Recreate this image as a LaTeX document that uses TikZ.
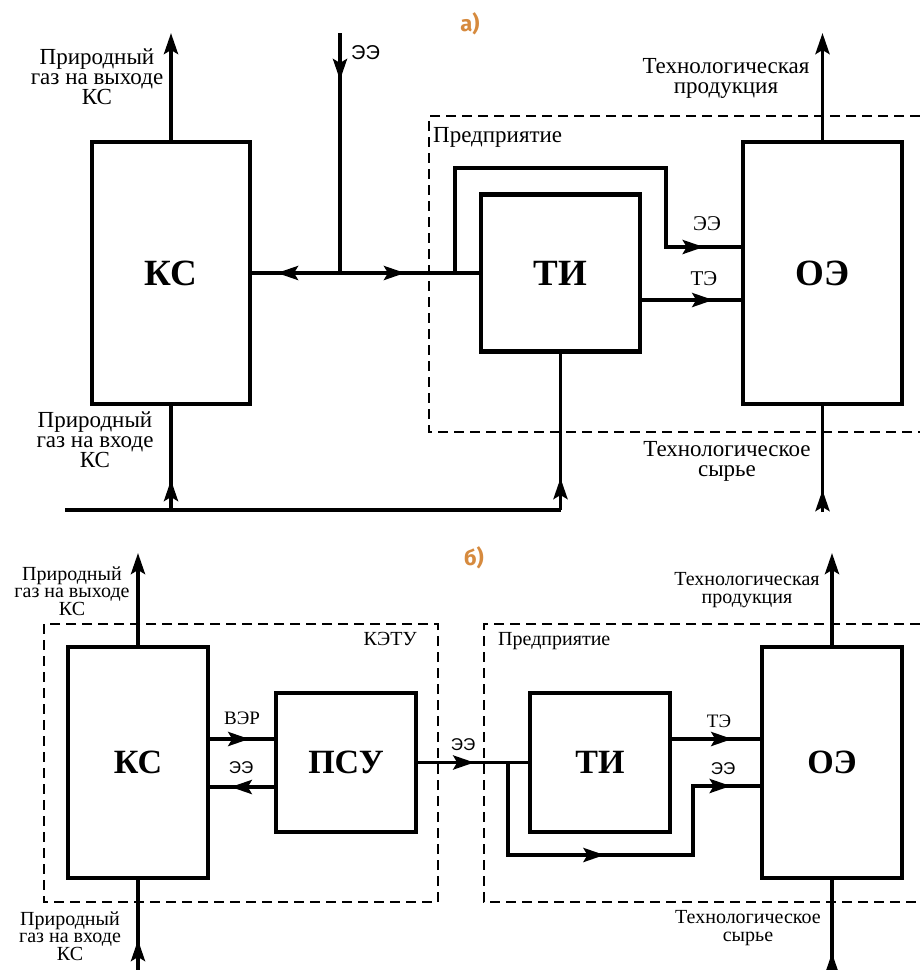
\documentclass[tikz,border=0pt]{standalone}
\usepackage{fontspec}
\setmainfont{Liberation Serif}
\setsansfont{Liberation Sans}
\newfontfamily\tagfont{Fira Sans}
\usepackage{xcolor}
\usetikzlibrary{arrows.meta, decorations.markings}
\definecolor{tagorange}{RGB}{214,138,62}

\begin{document}
\begin{tikzpicture}[
  x=1pt, y=-1pt,
  box/.style={rectangle, draw, line width=4.5pt, inner sep=0pt, font=\bfseries\fontsize{37}{37}\selectfont},
  boxsmall/.style={box, font=\bfseries\fontsize{34}{34}\selectfont},
  flowline/.style={line width=3.8pt},
  flow/.style={postaction={decorate, decoration={markings, mark=at position #1 with {\arrow{Stealth[length=21pt, width=14pt, inset=4pt]}}}}},
  outarrow/.style={line width=3.8pt, -{Stealth[length=21pt, width=14pt, inset=4pt]}},
  zone/.style={line width=1.4pt, dash pattern=on 10pt off 6pt},
  note/.style={inner sep=0pt, align=center, font=\fontsize{23}{20}\selectfont},
  notesmall/.style={inner sep=0pt, align=center, font=\fontsize{20}{17.5}\selectfont},
  tag/.style={inner sep=0pt, font=\fontsize{21}{21}\selectfont},
  tagsmall/.style={inner sep=0pt, font=\fontsize{19}{19}\selectfont},
  eetag/.style={inner sep=0pt, font=\sffamily\fontsize{20}{20}\selectfont},
  eetagsmall/.style={inner sep=0pt, font=\sffamily\fontsize{17}{17}\selectfont},
  part/.style={inner sep=0pt, text=tagorange, font=\tagfont\bfseries\fontsize{22}{22}\selectfont}
]
\useasboundingbox (0,0) rectangle (920,970);

\node[part] (parta) at (470,24) {а)};
\node[box, minimum width=158pt, minimum height=262pt] (ks) at (171,273) {КС};
\node[box, minimum width=159pt, minimum height=157pt] (ti) at (560.5,273) {ТИ};
\node[box, minimum width=159pt, minimum height=262pt] (oe) at (822.5,273) {ОЭ};

\coordinate (gasout) at (171,33);
\coordinate (eein) at (340,33);
\coordinate (split) at (340,273);
\coordinate (bypass) at (455,273);
\coordinate (prodout) at (822.5,33);
\coordinate (gasin) at (65,510);
\coordinate (rawin) at (822.5,512);

\draw[zone] (920,116) -- (429,116) -- (429,432) -- (920,432);
\node[inner sep=0pt, font=\fontsize{23}{23}\selectfont, anchor=base west] (firm) at (433,142) {Предприятие};

\draw[outarrow] (ks.north) -- (gasout);
\draw[flowline, flow=47pt] (eein) -- (split);
\draw[flowline, flow=63pt] (split) -- (ks.east);
\draw[flowline, flow=65pt] (split) -- (ti.west);
\draw[flowline, flow=-37pt] (bypass) -- (455,168) -- (666,168) -- (666,247) -- ([yshift=26pt]oe.west);
\draw[flowline, flow=71pt] ([yshift=-27pt]ti.east) -- ([yshift=-27pt]oe.west);
\draw[outarrow] (oe.north) -- (prodout);
\draw[flowline] (gasin) -- (ti.south |- gasin);
\draw[flowline, flow=32pt] (ti.south |- gasin) -- (ti.south);
\draw[flowline, flow=30pt] (ks.south |- gasin) -- (ks.south);
\draw[flowline, flow=22pt] (rawin) -- (oe.south);

\node[note] (gasoutlbl) at (97,77) {Природный\\газ на выходе\\КС};
\node[note] (gasinlbl) at (95,440) {Природный\\газ на входе\\КС};
\node[eetag, anchor=base west] (eeinlbl) at (351,59) {ЭЭ};
\node[tag] (eebylbl) at (707,224) {ЭЭ};
\node[tag] (telbl) at (704,279) {ТЭ};
\node[note] (prodlbl) at (726,78) {Технологическая\\продукция};
\node[note] (rawlbl) at (727,461) {Технологическое\\сырье};

\node[part] (partb) at (474,558) {б)};
\node[boxsmall, minimum width=140pt, minimum height=231pt] (ks2) at (138,762.5) {КС};
\node[boxsmall, minimum width=140pt, minimum height=139pt] (psu) at (346,762.5) {ПСУ};
\node[boxsmall, minimum width=140pt, minimum height=139pt] (ti2) at (600,762.5) {ТИ};
\node[boxsmall, minimum width=140pt, minimum height=231pt] (oe2) at (832,762.5) {ОЭ};

\coordinate (gasout2) at (138,553);
\coordinate (split2) at (508,762.5);
\coordinate (prodout2) at (832,553);
\coordinate (gasin2) at (138,970);
\coordinate (rawin2) at (832,970);

\draw[zone] (44,624) rectangle (438,902);
\draw[zone] (920,624) -- (484,624) -- (484,902) -- (920,902);
\node[inner sep=0pt, font=\fontsize{20}{20}\selectfont, anchor=base east] (ketu) at (417,645) {КЭТУ};
\node[inner sep=0pt, font=\fontsize{20}{20}\selectfont, anchor=base west] (firm2) at (498,645) {Предприятие};

\draw[outarrow] (ks2.north) -- (gasout2);
\draw[flowline, flow=39pt] ([yshift=23.5pt]ks2.east) -- ([yshift=23.5pt]psu.west);
\draw[flowline, flow=43pt] ([yshift=-24.5pt]psu.west) -- ([yshift=-24.5pt]ks2.east);
\draw[flowline, flow=56pt] (psu.east) -- (ti2.west);
\draw[flowline, flow=189pt, flow=-29pt] (split2) -- (508,855) -- (693,855) -- (693,786) -- ([yshift=-23.5pt]oe2.west);
\draw[flowline, flow=60pt] ([yshift=23.5pt]ti2.east) -- ([yshift=23.5pt]oe2.west);
\draw[outarrow] (oe2.north) -- (prodout2);
\draw[flowline, flow=30pt] (gasin2) -- (ks2.south);
\draw[flowline, flow=17pt] (rawin2) -- (oe2.south);

\node[notesmall] (gasoutlbl2) at (72,591) {Природный\\газ на выходе\\КС};
\node[notesmall] (gasinlbl2) at (70,936) {Природный\\газ на входе\\КС};
\node[tagsmall] (verlbl) at (242,718) {ВЭР};
\node[eetagsmall] (eebacklbl) at (241,768) {ЭЭ};
\node[eetagsmall] (eeoutlbl) at (463,745) {ЭЭ};
\node[tagsmall] (te2lbl) at (719,721) {ТЭ};
\node[eetagsmall] (ee2lbl) at (723,769) {ЭЭ};
\node[notesmall] (prodlbl2) at (747,590) {Технологическая\\продукция};
\node[notesmall] (rawlbl2) at (748,928) {Технологическое\\сырье};
\end{tikzpicture}
\end{document}
